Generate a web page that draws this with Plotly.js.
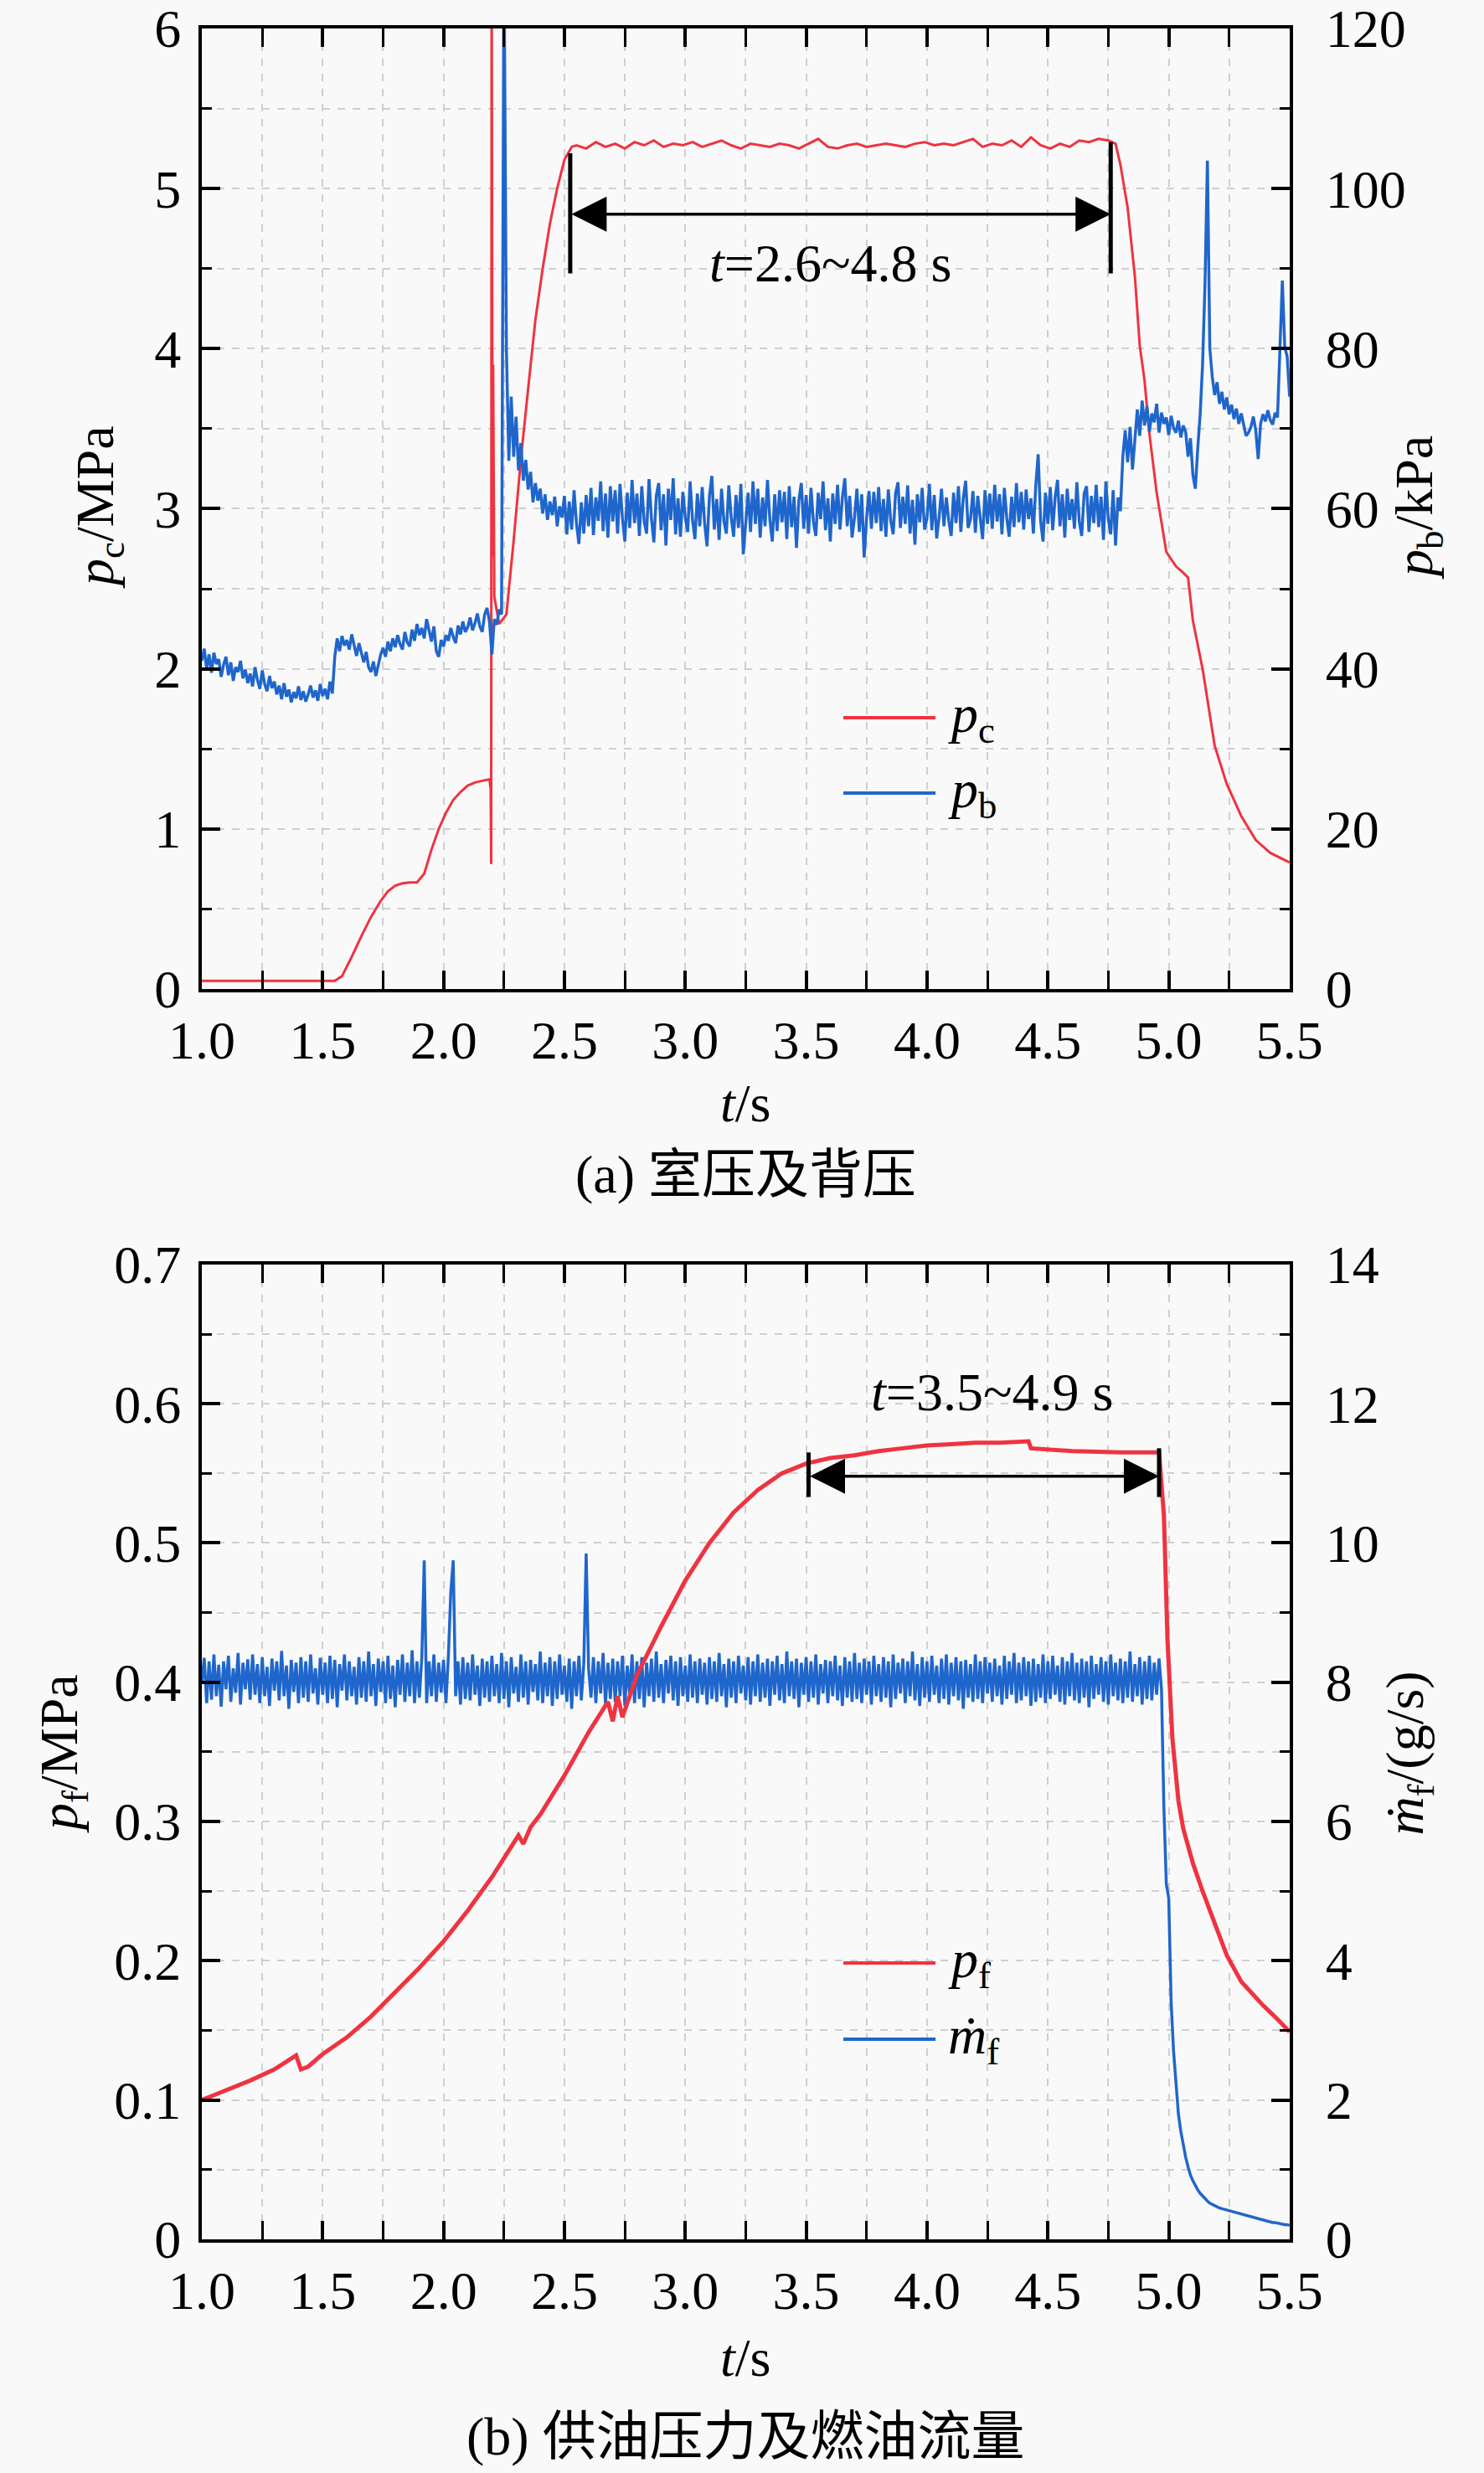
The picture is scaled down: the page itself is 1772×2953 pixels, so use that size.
<!DOCTYPE html>
<html>
<head>
<meta charset="utf-8">
<script src="https://cdn.plot.ly/plotly-3.0.1.min.js"></script>
<style>
  html, body { margin: 0; padding: 0; background: #f9f9f9; }
  #chart { width: 1772px; height: 2953px; }
</style>
</head>
<body>
<div id="chart"></div>
<script>
// (a) chamber pressure p_c (MPa)
var tPc = [1.00, 1.55, 1.58, 1.62, 1.66, 1.70, 1.74, 1.77, 1.80, 1.83, 1.86, 1.89, 1.92, 1.95, 1.98,
  2.01, 2.04, 2.07, 2.10, 2.13, 2.16, 2.19, 2.195, 2.197, 2.199, 2.201, 2.203, 2.205, 2.207, 2.21,
  2.23, 2.26, 2.29, 2.32, 2.35, 2.38, 2.41, 2.44, 2.47, 2.50, 2.53,
  2.55, 2.59, 2.63, 2.67, 2.71, 2.75, 2.79, 2.83, 2.87, 2.91, 2.95, 2.99, 3.03, 3.07, 3.11, 3.15,
  3.19, 3.23, 3.27, 3.31, 3.35, 3.39, 3.43, 3.47, 3.51, 3.55, 3.59, 3.63, 3.67, 3.71, 3.75, 3.79,
  3.83, 3.87, 3.91, 3.95, 3.99, 4.03, 4.07, 4.11, 4.15, 4.19, 4.23, 4.27, 4.31, 4.35, 4.39, 4.43,
  4.47, 4.51, 4.55, 4.59, 4.63, 4.67, 4.71, 4.75,
  4.78, 4.80, 4.83, 4.86, 4.88, 4.90, 4.92, 4.95, 4.99, 5.03, 5.06, 5.08, 5.10, 5.14, 5.19, 5.24,
  5.30, 5.36, 5.42, 5.50];
var pc = [0.05, 0.05, 0.08, 0.20, 0.33, 0.45, 0.55, 0.61, 0.645, 0.66, 0.665, 0.665, 0.72, 0.87, 1.00,
  1.10, 1.18, 1.23, 1.27, 1.29, 1.30, 1.31, 1.25, 0.78, 6.5, 4.1, 2.7, 3.9, 2.8, 2.45,
  2.28, 2.34, 2.80, 3.31, 3.75, 4.18, 4.50, 4.78, 5.00, 5.18, 5.26,
  5.27, 5.25, 5.29, 5.26, 5.28, 5.25, 5.29, 5.27, 5.30, 5.26, 5.28, 5.27, 5.29, 5.26, 5.28, 5.30,
  5.27, 5.25, 5.28, 5.27, 5.26, 5.28, 5.27, 5.25, 5.28, 5.31, 5.26, 5.25, 5.27, 5.28, 5.26, 5.27,
  5.28, 5.27, 5.26, 5.28, 5.29, 5.27, 5.28, 5.27, 5.29, 5.31, 5.26, 5.28, 5.27, 5.30, 5.26, 5.32,
  5.27, 5.25, 5.28, 5.26, 5.30, 5.29, 5.31, 5.30,
  5.28, 5.15, 4.88, 4.45, 4.02, 3.80, 3.47, 3.10, 2.73, 2.64, 2.60, 2.57, 2.30, 2.00, 1.52, 1.28,
  1.08, 0.93, 0.85, 0.79];

// (a) back pressure p_b (kPa), one reading every 0.01 s from t = 1.00 s
var pbStart = 1.0, pbStep = 0.01;
var pb = [
  41, 42.5, 40, 41.8, 39.5, 42, 40.6, 41.2, 39, 40.5,
  41.5, 39.2, 40.8, 38.5, 40.2, 39.6, 41, 38.8, 39.9, 38.2,
  39.4, 37.8, 40.2, 38.6, 37.5, 39.8, 38.1, 37.2, 39.1, 37.6,
  38.4, 36.8, 37.9, 36.2, 38.2, 36.5, 37.4, 35.8, 37.1, 36.3,
  37.8, 36.1, 37.2, 35.9, 36.8, 37.9, 36.4, 37.3, 36.0, 38.1,
  36.6, 37.5, 36.2, 38.4, 36.9, 41.5, 43.8, 42.2, 44.1, 42.9,
  43.6, 42.4, 44.3, 42.8, 41.6, 43.2, 41.9, 40.8, 42.1, 40.2,
  39.6, 40.9, 39.1, 40.4, 41.8, 42.6, 41.5, 43.4, 42.2, 43.8,
  42.7, 44.2, 43.1, 42.4, 44.6, 43.3, 42.8, 44.9, 43.5, 45.6,
  44.2, 45.1, 43.8, 46.2, 44.6, 43.4, 45.3, 42.2, 41.5, 43.6,
  42.8, 44.2, 43.5, 45.1, 44.0, 43.2, 45.4, 44.3, 45.9, 44.6,
  45.2, 46.4, 44.8, 45.7, 46.9, 45.3, 44.6, 46.8, 47.6, 45.9,
  41.8, 46.2, 45.5, 47.4, 46.8, 130, 80, 66, 74, 66.5,
  71.5, 64.8, 68.2, 63.5, 66.1, 62.4, 64.6, 60.8, 63.2, 61.0,
  62.5, 59.4, 61.8, 58.6, 60.9, 59.2, 61.5, 57.8, 60.3, 58.9,
  61.6, 56.8, 60.9, 57.4, 62.3, 58.1, 55.6, 60.8, 56.9, 61.7,
  57.8, 62.6, 56.7, 61.4, 58.5, 63.4, 57.2, 61.9, 56.4, 62.8,
  58.4, 62.3, 56.9, 63.1, 58.8, 55.9, 62.0, 57.6, 63.6, 58.2,
  61.9, 56.6, 62.8, 58.4, 56.9, 63.7, 58.8, 55.8, 61.6, 63.2,
  57.3, 61.8, 55.4, 62.5, 58.6, 63.8, 56.8, 61.3, 56.5, 62.1,
  58.9, 57.1, 63.4, 58.6, 56.2, 61.9, 57.8, 62.7, 58.2, 55.3,
  61.6, 64.1, 57.4, 61.2, 56.1, 62.5, 58.4, 56.9, 62.9, 58.9,
  56.5, 61.7, 57.6, 63.1, 54.3, 58.7, 62.0, 57.1, 63.4, 58.1,
  62.5, 56.4, 61.4, 57.8, 63.6, 58.6, 55.9, 61.8, 57.2, 62.3,
  58.3, 62.1, 56.2, 62.8, 57.7, 61.5, 55.1, 61.1, 63.2, 57.5,
  61.7, 56.9, 62.6, 58.4, 56.6, 62.0, 58.7, 63.4, 57.3, 61.3,
  55.9, 61.9, 58.1, 63.0, 57.4, 61.4, 63.8, 57.8, 61.6, 56.4,
  58.9, 62.5, 57.1, 61.8, 53.9, 58.8, 62.2, 57.5, 62.1, 58.2,
  62.7, 57.2, 61.2, 56.5, 62.4, 58.5, 56.8, 61.9, 63.3, 57.6,
  61.5, 58.1, 62.9, 56.9, 61.1, 55.5, 61.8, 58.3, 62.6, 57.4,
  58.8, 63.1, 57.3, 61.7, 56.3, 58.9, 62.5, 57.8, 61.4, 58.5,
  56.6, 62.0, 58.2, 62.8, 57.1, 61.3, 63.5, 57.6, 58.7, 62.2,
  57.0, 61.6, 58.6, 56.2, 62.3, 58.1, 61.9, 57.5, 63.0, 58.4,
  61.8, 56.8, 62.6, 58.8, 56.5, 61.5, 57.7, 63.2, 58.3, 62.1,
  57.4, 62.4, 58.7, 61.3, 56.9, 62.9, 66.8, 58.5, 55.9, 62.0,
  58.1, 62.7, 57.3, 61.4, 63.6, 57.8, 61.8, 56.4, 62.5, 58.6,
  61.2, 57.5, 63.3, 58.4, 56.6, 61.9, 62.8, 57.1, 61.6, 58.2,
  63.0, 57.7, 61.5, 56.1, 63.4, 58.7, 56.8, 62.3, 55.4, 61.4,
  59.7, 66.5, 69.8, 65.8, 70.2, 64.9, 68.6, 72.4, 69.1, 73.5,
  70.4, 72.8, 69.6, 71.9, 70.8, 73.1, 69.5, 72.0, 70.6, 71.4,
  69.2, 71.6, 70.1, 69.5, 71.0, 68.9, 70.4, 69.6, 66.5, 68.8,
  64.2, 62.5, 67.5, 71.8, 78.0, 88.0, 103.5, 80.0, 76.5, 74.2,
  75.8, 73.1, 74.6, 72.4, 73.9, 71.8, 73.0, 71.2, 72.5, 70.6,
  71.9, 70.3, 69.1, 69.5, 70.2, 71.5, 69.8, 66.2, 70.6, 71.8,
  70.9, 72.3, 71.1, 70.5, 72.0, 71.4, 80.5, 88.5, 80.2, 79.0,
  74.0];

// (b) fuel supply pressure p_f (MPa)
var tPf = [1.00, 1.10, 1.20, 1.30, 1.37, 1.39, 1.41, 1.44, 1.50, 1.60, 1.70, 1.80, 1.90, 2.00, 2.10,
  2.20, 2.28, 2.31, 2.33, 2.36, 2.40, 2.50, 2.60, 2.65, 2.68, 2.70, 2.72, 2.74, 2.76, 2.80, 2.90,
  3.00, 3.10, 3.20, 3.30, 3.40, 3.50, 3.60, 3.70, 3.80, 3.90, 4.00, 4.10, 4.20, 4.30, 4.42, 4.43,
  4.60, 4.80, 4.96, 4.98, 4.995, 5.015, 5.04, 5.06, 5.10, 5.14, 5.20, 5.24, 5.30, 5.39, 5.45, 5.50];
var pf = [0.100, 0.107, 0.114, 0.122, 0.130, 0.132, 0.122, 0.124, 0.133, 0.145, 0.160, 0.177, 0.195, 0.214, 0.236,
  0.260, 0.281, 0.290, 0.284, 0.296, 0.305, 0.333, 0.364, 0.378, 0.386, 0.372, 0.390, 0.375, 0.385, 0.405, 0.440,
  0.473, 0.500, 0.522, 0.538, 0.550, 0.557, 0.561, 0.563, 0.566, 0.568, 0.570, 0.571, 0.572, 0.572, 0.573, 0.568,
  0.566, 0.565, 0.565, 0.520, 0.430, 0.360, 0.315, 0.295, 0.270, 0.250, 0.222, 0.204, 0.185, 0.168, 0.158, 0.149];

// (b) fuel mass flow (g/s), one reading every 0.01 s from t = 1.00 s
var mfStart = 1.0, mfStep = 0.01;
var mf = [
  8.0, 8.35, 7.7, 8.3, 7.75, 8.4, 7.8, 8.25, 7.65, 8.3,
  7.9, 8.38, 7.72, 8.2, 7.85, 8.42, 7.68, 8.28, 7.9, 8.33,
  7.75, 8.4, 7.82, 8.26, 7.7, 8.36, 7.8, 8.22, 7.66, 8.34,
  7.88, 8.3, 7.74, 8.45, 7.8, 8.24, 7.62, 8.32, 7.86, 8.28,
  7.7, 8.36, 7.78, 8.3, 7.72, 8.4, 7.84, 8.2, 7.68, 8.35,
  7.82, 8.28, 7.7, 8.38, 7.76, 8.32, 7.64, 8.26, 7.88, 8.4,
  7.74, 8.3, 7.8, 8.22, 7.68, 8.36, 7.78, 8.3, 7.72, 8.44,
  7.8, 8.26, 7.66, 8.34, 7.86, 8.3, 7.7, 8.38, 7.76, 8.24,
  7.64, 8.32, 7.82, 8.4, 7.72, 8.28, 7.8, 8.46, 7.7, 8.3,
  7.78, 8.35, 9.75, 7.7, 8.3, 7.8, 8.4, 7.72, 8.28, 7.85,
  8.32, 7.7, 8.38, 9.3, 9.75, 7.8, 8.3, 7.68, 8.36, 7.76,
  8.28, 7.74, 8.4, 7.82, 8.24, 7.66, 8.34, 7.78, 8.3, 7.72,
  8.38, 7.8, 8.26, 7.7, 8.42, 7.76, 8.3, 7.64, 8.36, 7.84,
  8.22, 7.72, 8.4, 7.78, 8.3, 7.68, 8.32, 7.86, 8.26, 7.74,
  8.44, 7.7, 8.28, 7.8, 8.36, 7.66, 8.3, 7.76, 8.4, 7.82,
  8.24, 7.72, 8.34, 7.62, 8.3, 7.8, 8.38, 7.74, 8.26, 9.85,
  8.2, 7.78, 8.36, 7.7, 8.3, 7.84, 8.42, 7.68, 8.28, 7.76,
  8.34, 7.72, 8.3, 7.8, 8.38, 7.66, 8.24, 7.82, 8.4, 7.7,
  8.3, 7.76, 8.36, 7.64, 8.28, 7.8, 8.34, 7.72, 8.44, 7.78,
  8.26, 7.7, 8.32, 7.84, 8.38, 7.74, 8.3, 7.66, 8.36, 7.8,
  8.24, 7.72, 8.4, 7.78, 8.3, 7.7, 8.34, 7.82, 8.28, 7.68,
  8.36, 7.76, 8.3, 7.72, 8.42, 7.8, 8.26, 7.64, 8.34, 7.78,
  8.3, 7.7, 8.38, 7.84, 8.24, 7.74, 8.36, 7.68, 8.3, 7.8,
  8.4, 7.72, 8.28, 7.78, 8.34, 7.66, 8.3, 7.82, 8.38, 7.74,
  8.26, 7.7, 8.44, 7.8, 8.3, 7.76, 8.34, 7.64, 8.28, 7.82,
  8.36, 7.72, 8.3, 7.78, 8.4, 7.68, 8.26, 7.84, 8.32, 7.7,
  8.3, 7.8, 8.38, 7.74, 8.24, 7.66, 8.36, 7.78, 8.3, 7.72,
  8.42, 7.76, 8.28, 7.7, 8.34, 7.82, 8.3, 7.68, 8.38, 7.8,
  8.26, 7.72, 8.36, 7.78, 8.3, 7.64, 8.4, 7.76, 8.28, 7.84,
  8.34, 7.7, 8.3, 7.8, 8.44, 7.74, 8.26, 7.66, 8.36, 7.78,
  8.3, 7.72, 8.38, 7.82, 8.24, 7.7, 8.34, 7.76, 8.4, 7.68,
  8.28, 7.8, 8.36, 7.74, 8.3, 7.62, 8.32, 7.78, 8.26, 7.72,
  8.4, 7.76, 8.3, 7.7, 8.36, 7.84, 8.28, 7.72, 8.34, 7.8,
  8.24, 7.68, 8.38, 7.76, 8.3, 7.82, 8.42, 7.7, 8.28, 7.74,
  8.36, 7.8, 8.3, 7.66, 8.34, 7.72, 8.26, 7.78, 8.4, 7.7,
  8.3, 7.76, 8.38, 7.82, 8.24, 7.72, 8.36, 7.68, 8.3, 7.8,
  8.42, 7.74, 8.28, 7.7, 8.34, 7.78, 8.3, 7.64, 8.38, 7.76,
  8.26, 7.82, 8.36, 7.72, 8.3, 7.68, 8.4, 7.8, 8.28, 7.74,
  8.34, 7.7, 8.3, 7.78, 8.44, 7.72, 8.26, 7.8, 8.36, 7.68,
  8.3, 7.76, 8.38, 7.74, 8.28, 7.82, 8.34, 7.9, 6.2, 5.1,
  4.9, 3.4, 2.7, 2.2, 1.8, 1.55, 1.35, 1.18, 1.04, 0.92,
  0.84, 0.77, 0.71, 0.66, 0.62, 0.58, 0.55, 0.52, 0.50, 0.48,
  0.46, 0.45, 0.44, 0.43, 0.42, 0.41, 0.40, 0.39, 0.38, 0.37,
  0.36, 0.35, 0.34, 0.33, 0.32, 0.31, 0.30, 0.29, 0.28, 0.27,
  0.26, 0.26, 0.25, 0.24, 0.24, 0.23, 0.22, 0.22, 0.21, 0.21,
  0.20];

var RED = '#ef3340', BLUE = '#1f66cc';
var FONT = 'Liberation Serif, Times New Roman, Noto Sans CJK SC, serif';
var GRID = '#cfcfcf';

function xAxis(anchor) {
  return {
    anchor: anchor, domain: [0.136, 0.869], range: [1, 5.5],
    tick0: 1, dtick: 0.5, tickformat: '.1f',
    ticks: 'inside', ticklen: 22, tickwidth: 4, tickcolor: '#000',
    showline: true, linewidth: 4, linecolor: '#000', mirror: 'allticks',
    showgrid: true, gridcolor: GRID, gridwidth: 2, griddash: 'dash',
    zeroline: false, ticklabelstandoff: 2, ticklabeloverflow: 'allow',
    tickfont: {family: FONT, size: 64, color: '#000'},
    minor: {dtick: 0.25, ticks: 'inside', ticklen: 12, tickwidth: 3, tickcolor: '#000',
      showgrid: true, gridcolor: GRID, gridwidth: 2, griddash: 'dash'}
  };
}

function yAxis(opts) {
  var a = {
    anchor: opts.anchor, side: opts.side, range: opts.range, tick0: 0, dtick: opts.dtick,
    ticks: 'inside', ticklen: 22, tickwidth: 4, tickcolor: '#000',
    showline: true, linewidth: 4, linecolor: '#000', mirror: false,
    showgrid: opts.grid, gridcolor: GRID, gridwidth: 2, griddash: 'dash',
    zeroline: false, ticklabelstandoff: opts.side === 'left' ? 8 : 26, ticklabeloverflow: 'allow',
    tickfont: {family: FONT, size: 64, color: '#000'},
    minor: {dtick: opts.dtick / 2, ticks: 'inside', ticklen: 12, tickwidth: 3, tickcolor: '#000',
      showgrid: opts.grid, gridcolor: GRID, gridwidth: 2, griddash: 'dash'}
  };
  if (opts.domain) a.domain = opts.domain;
  if (opts.overlaying) a.overlaying = opts.overlaying;
  return a;
}

var data = [
  {x: tPc, y: pc, xaxis: 'x', yaxis: 'y', mode: 'lines', name: 'p_c',
    line: {color: RED, width: 3}},
  {y: pb, x0: pbStart, dx: pbStep, xaxis: 'x', yaxis: 'y2', mode: 'lines', name: 'p_b',
    line: {color: BLUE, width: 3.5}},
  {y: mf, x0: mfStart, dx: mfStep, xaxis: 'x2', yaxis: 'y3', mode: 'lines', name: 'm_f',
    line: {color: BLUE, width: 3.5}},
  {x: tPf, y: pf, xaxis: 'x2', yaxis: 'y4', mode: 'lines', name: 'p_f',
    line: {color: RED, width: 5}}
];

function txt(text, x, y, extra) {
  var a = {text: text, x: x, y: y, xref: 'paper', yref: 'paper', showarrow: false,
    xanchor: 'center', yanchor: 'middle',
    font: {family: FONT, size: 64, color: '#000'}};
  for (var k in extra) a[k] = extra[k];
  return a;
}

var annotations = [
  // axis titles
  txt('<i>p</i><sub>c</sub>/MPa', 0.0666, 0.7948, {textangle: -90}),
  txt('<i>p</i><sub>b</sub>/kPa', 0.9554, 0.7948, {textangle: -90}),
  txt('<i>t</i>/s', 0.5025, 0.5537),
  txt('(a) 室压及背压', 0.5025, 0.5249),
  txt('<i>p</i><sub>f</sub>/MPa', 0.0423, 0.2909, {textangle: -90}),
  txt('<i>ṁ</i><sub>f</sub>/(g/s)', 0.949, 0.2909, {textangle: -90}),
  txt('<i>t</i>/s', 0.5025, 0.0467),
  txt('(b) 供油压力及燃油流量', 0.5025, 0.0149),
  // legends
  txt('<i>p</i><sub>c</sub>', 0.6377, 0.7098, {xanchor: 'left'}),
  txt('<i>p</i><sub>b</sub>', 0.6377, 0.6793, {xanchor: 'left'}),
  txt('<i>p</i><sub>f</sub>', 0.6377, 0.2062, {xanchor: 'left'}),
  txt('<i>ṁ</i><sub>f</sub>', 0.6377, 0.1754, {xanchor: 'left'}),
  // interval markers
  {x: 4.76, y: 4.84, ax: 2.524, ay: 4.84, xref: 'x', yref: 'y', axref: 'x', ayref: 'y',
    text: '', showarrow: true, arrowhead: 2, startarrowhead: 2, arrowside: 'end+start',
    arrowsize: 2.4, startarrowsize: 2.4, arrowwidth: 3.5, arrowcolor: '#000', standoff: 0, startstandoff: 0},
  {text: '<i>t</i>=2.6~4.8 s', x: 3.60, y: 4.53, xref: 'x', yref: 'y', showarrow: false,
    xanchor: 'center', yanchor: 'middle', font: {family: FONT, size: 64, color: '#000'}},
  {x: 4.96, y: 0.548, ax: 3.51, ay: 0.548, xref: 'x2', yref: 'y4', axref: 'x2', ayref: 'y4',
    text: '', showarrow: true, arrowhead: 2, startarrowhead: 2, arrowside: 'end+start',
    arrowsize: 2.4, startarrowsize: 2.4, arrowwidth: 3.5, arrowcolor: '#000', standoff: 0, startstandoff: 0},
  {text: '<i>t</i>=3.5~4.9 s', x: 4.27, y: 0.608, xref: 'x2', yref: 'y4', showarrow: false,
    xanchor: 'center', yanchor: 'middle', font: {family: FONT, size: 64, color: '#000'}}
];

var shapes = [
  {type: 'line', xref: 'x', yref: 'y', x0: 2.524, x1: 2.524, y0: 4.47, y1: 5.22, line: {color: '#000', width: 5}},
  {type: 'line', xref: 'x', yref: 'y', x0: 4.76, x1: 4.76, y0: 4.47, y1: 5.29, line: {color: '#000', width: 5}},
  {type: 'line', xref: 'x2', yref: 'y4', x0: 3.51, x1: 3.51, y0: 0.533, y1: 0.565, line: {color: '#000', width: 5}},
  {type: 'line', xref: 'x2', yref: 'y4', x0: 4.96, x1: 4.96, y0: 0.533, y1: 0.568, line: {color: '#000', width: 5}},
  // legend samples
  {type: 'line', xref: 'paper', yref: 'paper', x0: 0.5683, x1: 0.6304, y0: 0.7098, y1: 0.7098, line: {color: RED, width: 4}},
  {type: 'line', xref: 'paper', yref: 'paper', x0: 0.5683, x1: 0.6304, y0: 0.6793, y1: 0.6793, line: {color: BLUE, width: 4}},
  {type: 'line', xref: 'paper', yref: 'paper', x0: 0.5683, x1: 0.6304, y0: 0.2062, y1: 0.2062, line: {color: RED, width: 4}},
  {type: 'line', xref: 'paper', yref: 'paper', x0: 0.5683, x1: 0.6304, y0: 0.1754, y1: 0.1754, line: {color: BLUE, width: 4}}
];

var layout = {
  width: 1772, height: 2953,
  margin: {l: 0, r: 0, t: 0, b: 0},
  paper_bgcolor: '#f9f9f9', plot_bgcolor: '#f9f9f9',
  showlegend: false,
  font: {family: FONT, size: 64, color: '#000'},
  xaxis: xAxis('y'),
  yaxis: yAxis({anchor: 'x', side: 'left', range: [0, 6], dtick: 1, grid: true, domain: [0.6001, 0.9885]}),
  yaxis2: yAxis({anchor: 'x', side: 'right', range: [0, 120], dtick: 20, grid: false, overlaying: 'y'}),
  xaxis2: xAxis('y3'),
  yaxis3: yAxis({anchor: 'x2', side: 'right', range: [0, 14], dtick: 2, grid: true, domain: [0.0945, 0.4887]}),
  yaxis4: yAxis({anchor: 'x2', side: 'left', range: [0, 0.7], dtick: 0.1, grid: false, overlaying: 'y3'}),
  annotations: annotations,
  shapes: shapes
};

Plotly.newPlot('chart', data, layout, {staticPlot: true});
</script>
</body>
</html>
